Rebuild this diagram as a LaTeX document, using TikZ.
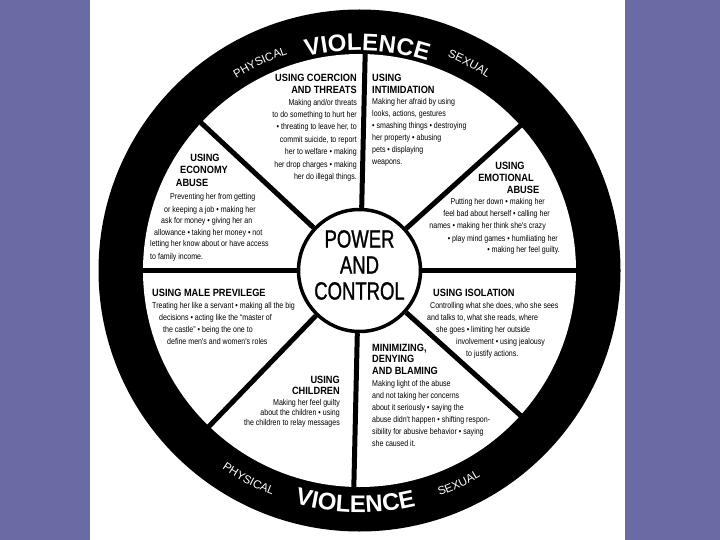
\documentclass[tikz,border=0pt]{standalone}
\usepackage{fontspec}
\setmainfont{Liberation Sans}
\newfontfamily\bodyfont[FakeStretch=0.83]{Liberation Sans}
\newfontfamily\headfont[FakeStretch=0.88]{Liberation Sans}
\newfontfamily\hubfont[FakeStretch=0.74,FakeBold=1]{Liberation Sans}
\usetikzlibrary{decorations.text}
\definecolor{sidebar}{RGB}{106,106,164}
\newcommand\ringbig{\fontsize{24}{24}\selectfont\bfseries}
\newcommand\ringsmall{\fontsize{11.5}{12}\selectfont}
\tikzset{
  body/.style={font=\bodyfont\fontsize{8.5}{12}\selectfont, inner sep=0pt},
  head/.style={font=\headfont\bfseries\fontsize{10.5}{12}\selectfont, inner sep=0pt},
  spoke/.style={line width=5pt},
  ringtext/.style={decorate, decoration={text along path, text={#1}, text align=center, text color=white}}
}
\begin{document}
\begin{tikzpicture}[x=1pt,y=1pt]
\useasboundingbox (0,0) rectangle (720,-540);
\fill[white] (0,0) rectangle (720,-540);
\fill[sidebar] (0,0) rectangle (90,-540);
\fill[sidebar] (625,0) rectangle (720,-540);
\coordinate (C) at (359.5,-270.5);
% ring
\fill[black] (C) circle (261);
\fill[white] (C) circle (216.5);
% hub
\node[circle, draw, line width=3.5pt, minimum size=122pt, inner sep=0pt, fill=white] (hub) at (C) {};
\node[font=\hubfont\fontsize{25}{26}\selectfont, align=center, inner sep=0pt] (pc) at (359.5,-265) {POWER\\AND\\CONTROL};
% spokes
\foreach \a in {88.5,42,0,318,268.5,226,180,137}
  \draw[spoke] (hub.\a) -- ([shift={(\a:218)}]C);
% ring texts
\path[ringtext={|\ringbig|VIOLENCE}] ([shift={(118:220)}]C) arc[start angle=118, end angle=58, radius=220];
\path[ringtext={|\ringsmall|PHYSICAL}] ([shift={(135:228)}]C) arc[start angle=135, end angle=96, radius=228];
\path[ringtext={|\ringsmall|SEXUAL}] ([shift={(82:231)}]C) arc[start angle=82, end angle=42, radius=231];
\path[ringtext={|\ringbig|VIOLENCE}] ([shift={(239:242)}]C) arc[start angle=239, end angle=299, radius=242];
\path[ringtext={|\ringsmall|PHYSICAL}] ([shift={(222:241)}]C) arc[start angle=222, end angle=262, radius=241];
\path[ringtext={|\ringsmall|SEXUAL}] ([shift={(275:239)}]C) arc[start angle=275, end angle=315, radius=239];
% Coercion
\foreach \y/\t [count=\i] in {82/{USING COERCION},94/{AND THREATS}}
  \node[head, anchor=base east] (coh\i) at (357,-\y) {\t};
\foreach \y/\t [count=\i] in {106/{Making and/or threats},118/{to do something to hurt her},130/{• threating to leave her, to},143/{commit suicide, to report},155/{her to welfare • making},168/{her drop charges • making},180/{her do illegal things.}}
  \node[body, anchor=base east] (cob\i) at (357,-\y) {\t};
% Intimidation
\foreach \y/\t [count=\i] in {82/{USING},94/{INTIMIDATION}}
  \node[head, anchor=base west] (inh\i) at (372,-\y) {\t};
\foreach \y/\t [count=\i] in {105/{Making her afraid by using},117/{looks, actions, gestures},129/{• smashing things • destroying},141/{her property • abusing},153/{pets • displaying},165/{weapons.}}
  \node[body, anchor=base west] (inb\i) at (372,-\y) {\t};
% Emotional
\foreach \x/\y/\t [count=\i] in {510/170/{USING},506/182/{EMOTIONAL},523/194/{ABUSE}}
  \node[head, anchor=base] (emh\i) at (\x,-\y) {\t};
\foreach \x/\y/\t [count=\i] in {545/205/{Putting her down • making her},550/217/{feel bad about herself • calling her},546/229/{names • making her think she's crazy},558/241/{• play mind games • humiliating her},560/252/{• making her feel guilty.}}
  \node[body, anchor=base east] (emb\i) at (\x,-\y) {\t};
% Economy
\foreach \x/\y/\t [count=\i] in {205/162/{USING},204/174/{ECONOMY},192/187/{ABUSE}}
  \node[head, anchor=base] (ech\i) at (\x,-\y) {\t};
\foreach \x/\y/\t [count=\i] in {170/200/{Preventing her from getting},164/212/{or keeping a job • making her},161/224/{ask for money • giving her an},154/236/{allowance • taking her money • not},150/247/{letting her know about or have access},150/259/{to family income.}}
  \node[body, anchor=base west] (ecb\i) at (\x,-\y) {\t};
% Male privilege
\node[head, anchor=base west] (mph1) at (152,-296) {USING MALE PREVILEGE};
\foreach \x/\y/\t [count=\i] in {152/308/{Treating her like a servant • making all the big},159/320/{decisions • acting like the “master of},163/332/{the castle” • being the one to},167/344/{define men's and women's roles}}
  \node[body, anchor=base west] (mpb\i) at (\x,-\y) {\t};
% Isolation
\node[head, anchor=base west] (ish1) at (433,-296) {USING ISOLATION};
\foreach \x/\y/\t [count=\i] in {430/308/{Controlling what she does, who she sees},427/320/{and talks to, what she reads, where},436/332/{she goes • limiting her outside},456/344/{involvement • using jealousy},466/356/{to justify actions.}}
  \node[body, anchor=base west] (isb\i) at (\x,-\y) {\t};
% Children
\foreach \y/\t [count=\i] in {383/{USING},394/{CHILDREN}}
  \node[head, anchor=base east] (chh\i) at (340,-\y) {\t};
\foreach \y/\t [count=\i] in {405/{Making her feel guilty},415/{about the children • using},425/{the children to relay messages}}
  \node[body, anchor=base east] (chb\i) at (340,-\y) {\t};
% Minimizing
\foreach \y/\t [count=\i] in {351/{MINIMIZING,},362.5/{DENYING},374/{AND BLAMING}}
  \node[head, anchor=base west] (mih\i) at (372,-\y) {\t};
\foreach \y/\t [count=\i] in {386/{Making light of the abuse},398/{and not taking her concerns},410/{about it seriously • saying the},422/{abuse didn't happen • shifting respon-},434/{sibility for abusive behavior • saying},446/{she caused it.}}
  \node[body, anchor=base west] (mib\i) at (372,-\y) {\t};
\end{tikzpicture}
\end{document}
